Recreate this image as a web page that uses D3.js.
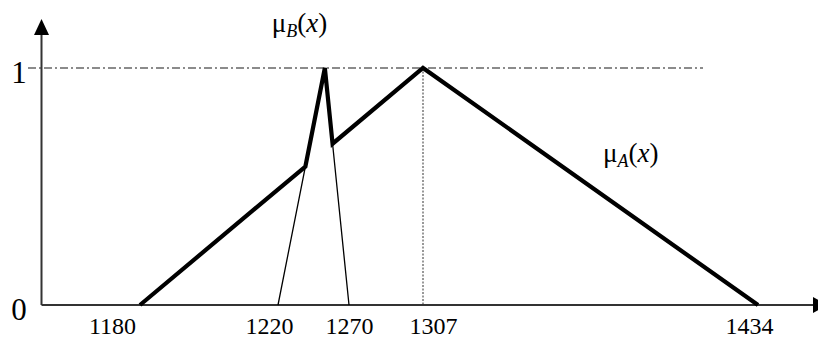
<!DOCTYPE html>
<html lang="en">
<head>
    <meta charset="UTF-8" />
    <title>Fuzzy membership functions</title>
    <script src="https://d3js.org/d3.v7.min.js"></script>
    <style>
        body { margin: 0; background: #fff; }
        text { font-family: "Liberation Serif", "DejaVu Serif", serif; fill: #000; }
        .axis-line { stroke: #333; stroke-width: 2px; }
        .thick { fill: none; stroke: #000; stroke-width: 4.2px; stroke-linejoin: miter; }
        .thin { fill: none; stroke: #000; stroke-width: 1.3px; }
        .guide { stroke: #666; stroke-width: 1.6px; stroke-dasharray: 8 3 2 3; }
        .drop { stroke: #777; stroke-width: 1.5px; stroke-dasharray: 2 1.5; }
    </style>
</head>
<body>
<script>
    // tick labels on the x axis
    const xTicks = [1180, 1220, 1270, 1307, 1434];
    const yTicks = [0, 1];

    // membership function A (triangle)
    const muA = [
        { x: 1180, y: 0 },
        { x: 1307, y: 1 },
        { x: 1434, y: 0 },
    ];
    // membership function B (narrow triangle)
    const muB = [
        { x: 1220, y: 0 },
        { x: 1253, y: 1 },
        { x: 1270, y: 0 },
    ];

    const width = 818;
    const height = 338;

    // the drawing is schematic, so the x scale is piecewise
    const xScale = d3.scaleLinear()
        .domain(xTicks)
        .range([140, 278, 349, 423, 758]);

    const yScale = d3.scaleLinear()
        .domain([0, 1])
        .range([305, 68]);

    const originX = 41.5;
    const labelNudge = { 1180: -28, 1220: -9, 1270: 0, 1307: 10, 1434: -9 };

    const svg = d3.select("body").append("svg")
        .attr("width", width)
        .attr("height", height);

    // guide line at mu = 1
    svg.append("line")
        .attr("class", "guide")
        .attr("x1", 28).attr("x2", 703)
        .attr("y1", yScale(1)).attr("y2", yScale(1));

    // dotted drop line under the peak of A
    svg.append("line")
        .attr("class", "drop")
        .attr("x1", xScale(1307)).attr("x2", xScale(1307))
        .attr("y1", yScale(1)).attr("y2", yScale(0));

    // axes with arrow heads
    svg.append("line").attr("class", "axis-line")
        .attr("x1", originX).attr("x2", 814)
        .attr("y1", yScale(0)).attr("y2", yScale(0));
    svg.append("line").attr("class", "axis-line")
        .attr("x1", originX).attr("x2", originX)
        .attr("y1", yScale(0)).attr("y2", 34);
    svg.append("path")
        .attr("d", `M${originX},19 L${originX - 7.5},35 L${originX + 7.5},35 Z`)
        .attr("fill", "#000");
    svg.append("path")
        .attr("d", `M828,${yScale(0)} L813,${yScale(0) - 8} L813,${yScale(0) + 8} Z`)
        .attr("fill", "#000");

    // x tick labels
    const xAxis = svg.append("g")
        .attr("transform", `translate(0, ${yScale(0)})`)
        .call(d3.axisBottom(xScale).tickValues(xTicks).tickSize(0).tickPadding(12).tickFormat(d3.format("d")));
    xAxis.select(".domain").remove();
    xAxis.selectAll("text")
        .attr("font-size", 24)
        .attr("fill", "#000")
        .attr("dx", d => labelNudge[d]);

    // y tick labels
    svg.selectAll(".ylab")
        .data(yTicks)
        .enter()
        .append("text")
        .attr("class", "ylab")
        .attr("x", 19)
        .attr("y", d => yScale(d))
        .attr("dy", "0.48em")
        .attr("text-anchor", "middle")
        .attr("font-size", 31)
        .text(d => d);

    // pixel points of both functions
    const pa = muA.map(d => [xScale(d.x), yScale(d.y)]);
    const pb = muB.map(d => [xScale(d.x), yScale(d.y)]);

    // intersection of two lines through p1-p2 and p3-p4
    function cross(p1, p2, p3, p4) {
        const d = (p1[0] - p2[0]) * (p3[1] - p4[1]) - (p1[1] - p2[1]) * (p3[0] - p4[0]);
        const a = p1[0] * p2[1] - p1[1] * p2[0];
        const b = p3[0] * p4[1] - p3[1] * p4[0];
        return [(a * (p3[0] - p4[0]) - (p1[0] - p2[0]) * b) / d,
                (a * (p3[1] - p4[1]) - (p1[1] - p2[1]) * b) / d];
    }
    const left = cross(pa[0], pa[1], pb[0], pb[1]);
    const right = cross(pa[0], pa[1], pb[1], pb[2]);

    const line = d3.line();

    // full B triangle, thin
    svg.append("path").attr("class", "thin").attr("d", line(pb));

    // envelope max(A, B), thick
    svg.append("path").attr("class", "thick")
        .attr("d", line([pa[0], left, pb[1], right, pa[1], pa[2]]));

    // function labels
    function muLabel(x, y, sub) {
        const t = svg.append("text").attr("x", x).attr("y", y).attr("font-size", 27);
        t.append("tspan").text("\u03bc");
        t.append("tspan").attr("font-style", "italic").attr("font-size", 18).attr("dy", 5).text(sub);
        t.append("tspan").attr("dy", -5).text("(");
        t.append("tspan").attr("font-style", "italic").text("x");
        t.append("tspan").text(")");
    }
    muLabel(xScale(1253) - 53, yScale(1) - 36, "B");
    muLabel(603, 162, "A");
</script>
</body>
</html>
